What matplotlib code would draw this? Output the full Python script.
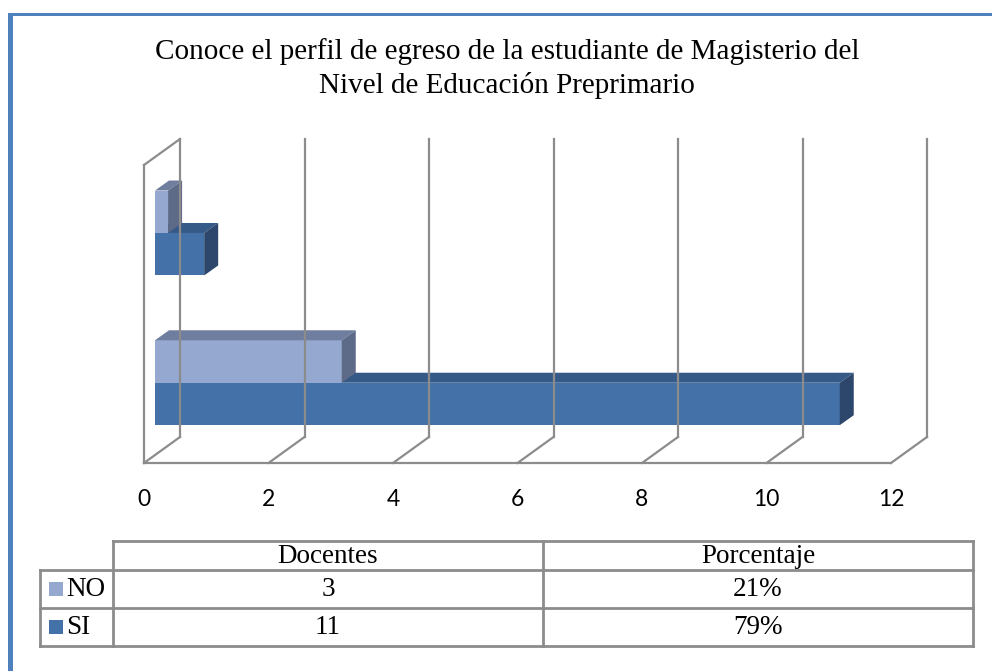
import matplotlib
matplotlib.use("Agg")
import matplotlib.pyplot as plt
from matplotlib.patches import Polygon, Rectangle
from matplotlib.lines import Line2D

# ---- data ----
title = "Conoce el perfil de egreso de la estudiante de Magisterio del\nNivel de Educación Preprimario"
categories = ["Docentes", "Porcentaje"]
series_names = ["NO", "SI"]
no_values = [3, 0.21]
si_values = [11, 0.79]
table_no = ["3", "21%"]
table_si = ["11", "79%"]
xticks = [0, 2, 4, 6, 8, 10, 12]

# ---- style ----
W, H = 992, 671
col = {
    "NO": ("#95A8D0", "#6F7E9E", "#5D6B88"),
    "SI": ("#4471A7", "#365A87", "#2C476B"),
}
grid_c = "#8C8C8C"
serif = "Liberation Serif"

fig = plt.figure(figsize=(W / 100, H / 100), dpi=100)
bg = fig.add_axes([0, 0, 1, 1])
bg.set_xlim(0, W)
bg.set_ylim(H, 0)
bg.axis("off")

# blue frame (left & top)
bg.add_patch(Rectangle((8, 13), 5, H - 13, color="#4F81BD", lw=0))
bg.add_patch(Rectangle((8, 13), W - 8, 3, color="#4F81BD", lw=0))

bg.text(507, 68.5, title, ha="center", va="center", fontsize=21,
        family=serif, linespacing=1.3)

# ---- main 3D-ish bar axes ----
x0, x1 = 144, 891
yb, yt = 463, 165
ax = fig.add_axes([x0 / W, (H - yb) / H, (x1 - x0) / W, (yb - yt) / H])
ax.set_xlim(0, 12)
ax.set_ylim(0, 2)
ax.axis("off")
ux = (x1 - x0) / 12.0
uy = (yb - yt) / 2.0


def dep(px, py):
    return px / ux, py / uy


wdx, wdy = dep(36, 26)
lw = 1.6
# back wall gridlines + floor diagonals
for t in xticks:
    ax.add_line(Line2D([t + wdx, t + wdx], [wdy, 2 + wdy], color=grid_c, lw=lw, clip_on=False))
    ax.add_line(Line2D([t, t + wdx], [0, wdy], color=grid_c, lw=lw, clip_on=False))
# front floor edge
ax.add_line(Line2D([0, 12], [0, 0], color=grid_c, lw=lw, clip_on=False))
# left wall
ax.add_line(Line2D([0, 0], [0, 2], color=grid_c, lw=lw, clip_on=False))
ax.add_line(Line2D([0, wdx], [2, 2 + wdy], color=grid_c, lw=lw, clip_on=False))

# bars
fdx, fdy = dep(11, 8)
bdx, bdy = dep(25, 18)
h = 0.285
centers = [0.485, 1.49]


def bar3d(v, ylo, colors):
    front, top, side = colors
    fl = fdx
    fr = v + fdx
    yl = ylo + fdy
    yh = ylo + h + fdy
    ddx, ddy = bdx - fdx, bdy - fdy
    ax.add_patch(Polygon([(fl, yl), (fr, yl), (fr, yh), (fl, yh)], closed=True,
                         facecolor=front, edgecolor="none", clip_on=False))
    ax.add_patch(Polygon([(fl, yh), (fr, yh), (fr + ddx, yh + ddy), (fl + ddx, yh + ddy)],
                         closed=True, facecolor=top, edgecolor="none", clip_on=False))
    ax.add_patch(Polygon([(fr, yl), (fr + ddx, yl + ddy), (fr + ddx, yh + ddy), (fr, yh)],
                         closed=True, facecolor=side, edgecolor="none", clip_on=False))


for i, c in enumerate(centers):
    bar3d(si_values[i], c - h, col["SI"])
    bar3d(no_values[i], c, col["NO"])

# tick labels
for t in xticks:
    ax.text(t, -37 / uy, str(t), ha="center", va="center", fontsize=16.5,
            family="Lato", clip_on=False)

# ---- data table ----
tl = 40
tc0, tc1, tc2 = 113, 543, 973
ty0, ty1, ty2, ty3 = 541, 570, 608, 646
tkw = dict(color=grid_c, lw=2)
bg.add_line(Line2D([tc0, tc2], [ty0, ty0], **tkw))
bg.add_line(Line2D([tl, tc2], [ty1, ty1], **tkw))
bg.add_line(Line2D([tl, tc2], [ty2, ty2], **tkw))
bg.add_line(Line2D([tl, tc2], [ty3, ty3], **tkw))
bg.add_line(Line2D([tl, tl], [ty1, ty3], **tkw))
bg.add_line(Line2D([tc0, tc0], [ty0, ty3], **tkw))
bg.add_line(Line2D([tc1, tc1], [ty0, ty3], **tkw))
bg.add_line(Line2D([tc2, tc2], [ty0, ty3], **tkw))

fs = 19.5
for j, cat in enumerate(categories):
    cx = (tc0 + tc1) / 2 if j == 0 else (tc1 + tc2) / 2
    bg.text(cx, (ty0 + ty1) / 2 + 1, cat, ha="center", va="center", fontsize=fs, family=serif)
    bg.text(cx, (ty1 + ty2) / 2 + 1, table_no[j], ha="center", va="center", fontsize=fs, family=serif)
    bg.text(cx, (ty2 + ty3) / 2 + 1, table_si[j], ha="center", va="center", fontsize=fs, family=serif)

for k, (name, rowy) in enumerate([("NO", (ty1 + ty2) / 2), ("SI", (ty2 + ty3) / 2)]):
    bg.add_patch(Rectangle((49, rowy - 7), 14, 14, color=col[name][0], lw=0))
    bg.text(66, rowy + 1, name, ha="left", va="center", fontsize=fs, family=serif)

fig.savefig("out.png", dpi=100)
